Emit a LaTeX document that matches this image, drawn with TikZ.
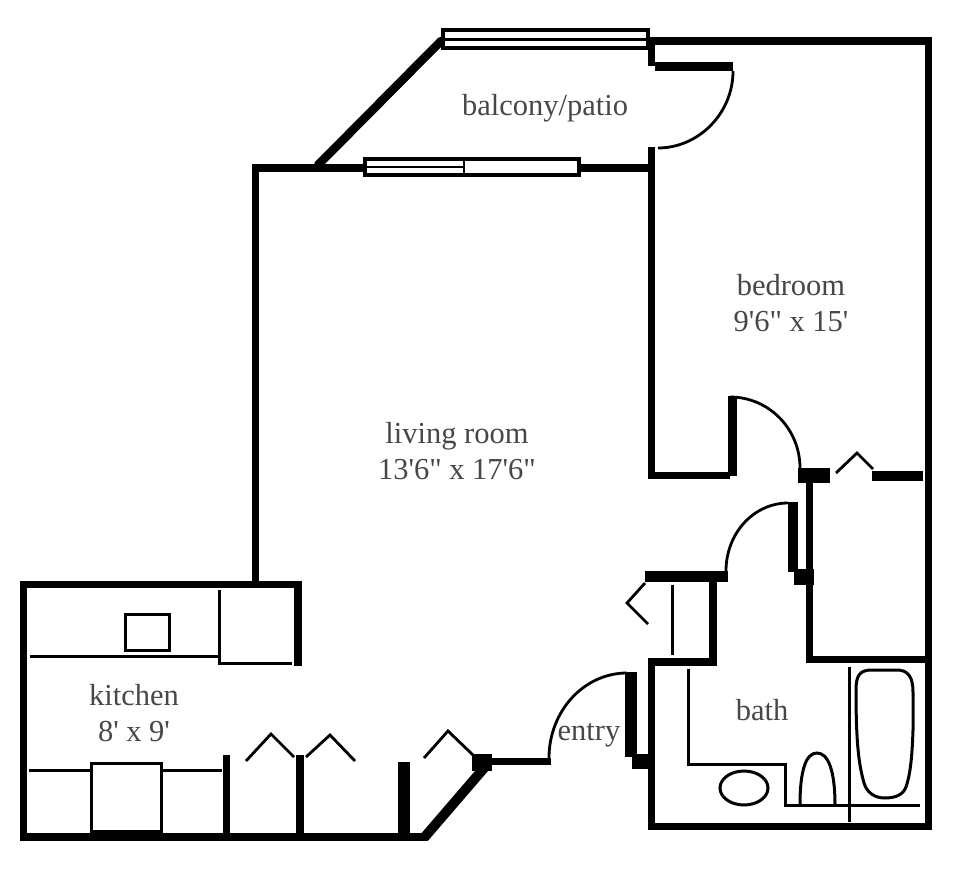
\documentclass[tikz,border=0pt]{standalone}
\usepackage{fontspec}
\newfontfamily\roomfont{Liberation Serif}
\begin{document}
\begin{tikzpicture}[x=1pt,y=-1pt]

\tikzset{wall/.style = {line width=7.5pt,black}}
\tikzset{jamb/.style = {line width=10pt,black}}
\tikzset{thin/.style = {line width=3pt,black}}
\tikzset{swing/.style = {line width=2.8pt,black}}
\tikzset{room/.style = {font=\roomfont\fontsize{30.5}{36.5}\selectfont,text=black!72,align=center,inner sep=0pt}}
\useasboundingbox (0,0) rectangle (961,877);
% outer walls
\draw[wall] (648,41) -- (932,41);
\draw[wall] (928.5,37) -- (928.5,830);
\draw[wall] (648,826.5) -- (932,826.5);
\draw[wall] (651.5,660) -- (651.5,830);
\draw[wall] (651.5,41) -- (651.5,66);
\draw[wall] (651.5,147) -- (651.5,479);
\draw[wall] (651.5,168) -- (579,168);
\draw[wall] (363,168) -- (252,168);
\draw[wall,line width=8.5pt,line cap=round] (441,41) -- (318,165);
\draw[wall] (255.5,165) -- (255.5,582);
% kitchen walls
\draw[wall] (298,666) -- (298,584.5) -- (23.5,584.5) -- (23.5,837) -- (428,837);
\fill (415,840.7) -- (428,840.7) -- (488,771) -- (475,771) -- cycle;
\draw[wall] (226.5,755) -- (226.5,836);
\draw[wall] (300,755) -- (300,836);
\draw[jamb,line width=12pt] (404,762) -- (404,835);
\fill (472,754) rectangle (492,771);
\draw[wall] (492,761.5) -- (551,761.5);
% bedroom walls
\draw[wall] (648,475.5) -- (730,475.5);
\draw[jamb,line width=9pt] (732.5,396) -- (732.5,476);
\fill (798,468) rectangle (830,483);
\draw[jamb] (872,475.5) -- (923,475.5);
\draw[wall] (809.5,483) -- (809.5,660);
\draw[wall] (806,659.5) -- (932,659.5);
% bath walls
\draw[jamb] (793,502) -- (793,572);
\fill (794,569) rectangle (814,585);
\draw[jamb,line width=11pt] (645,576.5) -- (728,576.5);
\draw[wall] (713,582) -- (713,662) -- (648,662);
\draw[jamb,line width=12pt] (631,672) -- (631,757);
\fill (632,754) rectangle (652,769);
\draw[jamb,line width=9pt] (655,66.5) -- (733,66.5);
% windows
\draw[line width=3.5pt,fill=white] (443,30) rectangle (648,48);
\draw[line width=2.5pt] (443,39.5) -- (648,39.5);
\draw[line width=3.5pt,fill=white] (365,159) rectangle (579,175);
\draw[line width=2.5pt] (464,159) -- (464,175);
\draw[line width=2.5pt] (365,167) -- (464,167);
% door swings
\draw[swing] (733,71) .. controls (733,114) and (698,148) .. (658,148);
\draw[swing] (730,397) .. controls (769,397) and (800,429) .. (800,468);
\draw[swing] (788,503) .. controls (754,503) and (726,533) .. (726,571);
\draw[swing] (627,673) .. controls (584,673) and (549,711) .. (549,758);
% closet doors
\draw[swing] (836,473) -- (857,453) -- (873,469);
\draw[swing] (645,583) -- (627,603) -- (648,624);
\draw[swing] (246,761) -- (271,734) -- (294,757);
\draw[swing] (306,757) -- (330,735) -- (355,761);
\draw[swing] (424,758) -- (448,731) -- (473,755);
\draw[thin] (672,585) -- (672,655);
% kitchen fixtures
\draw[thin] (30,656) -- (219,656);
\draw[thin] (219,590) -- (219,663) -- (292,663);
\draw[thin] (125,614) rectangle (169,650);
\draw[thin] (29,770) -- (91,770);
\draw[thin] (162,770) -- (222,770);
\draw[thin] (91.5,833) -- (91.5,763) -- (161.5,763) -- (161.5,833);
\draw[line width=5pt] (91,832) -- (162,832);
% bath fixtures
\draw[thin] (688,669) -- (688,764) -- (785,764) -- (785,805) -- (920,805);
\draw[thin] (849,667) -- (849,822);
\draw[thin] (744,788) ellipse (24 and 17);
\draw[thin] (800,805) .. controls (800,770) and (806,753) .. (817,753) .. controls (828,753) and (835,770) .. (835,805);
\draw[thin] (856,690) .. controls (856,675) and (860,670) .. (872,670) -- (897,670) .. controls (908,670) and (913,677) .. (913,692) -- (913,730) .. controls (912,760) and (910,775) .. (906,787) .. controls (903,795) and (895,798) .. (885,798) .. controls (875,798) and (867,793) .. (864,783) .. controls (859,765) and (856,745) .. (856,690) -- cycle;
% labels
\node[room] (balcony) at (545,108) {balcony/patio};
\node[room] (bedroom) at (791,303) {bedroom\\9'6" x 15'};
\node[room] (living) at (457,451) {living room\\13'6" x 17'6"};
\node[room] (kitchen) at (134,713) {kitchen\\8' x 9'};
\node[room] (bath) at (762,710) {bath};
\node[room] (entry) at (589,735) {entry};
\end{tikzpicture}
\end{document}
